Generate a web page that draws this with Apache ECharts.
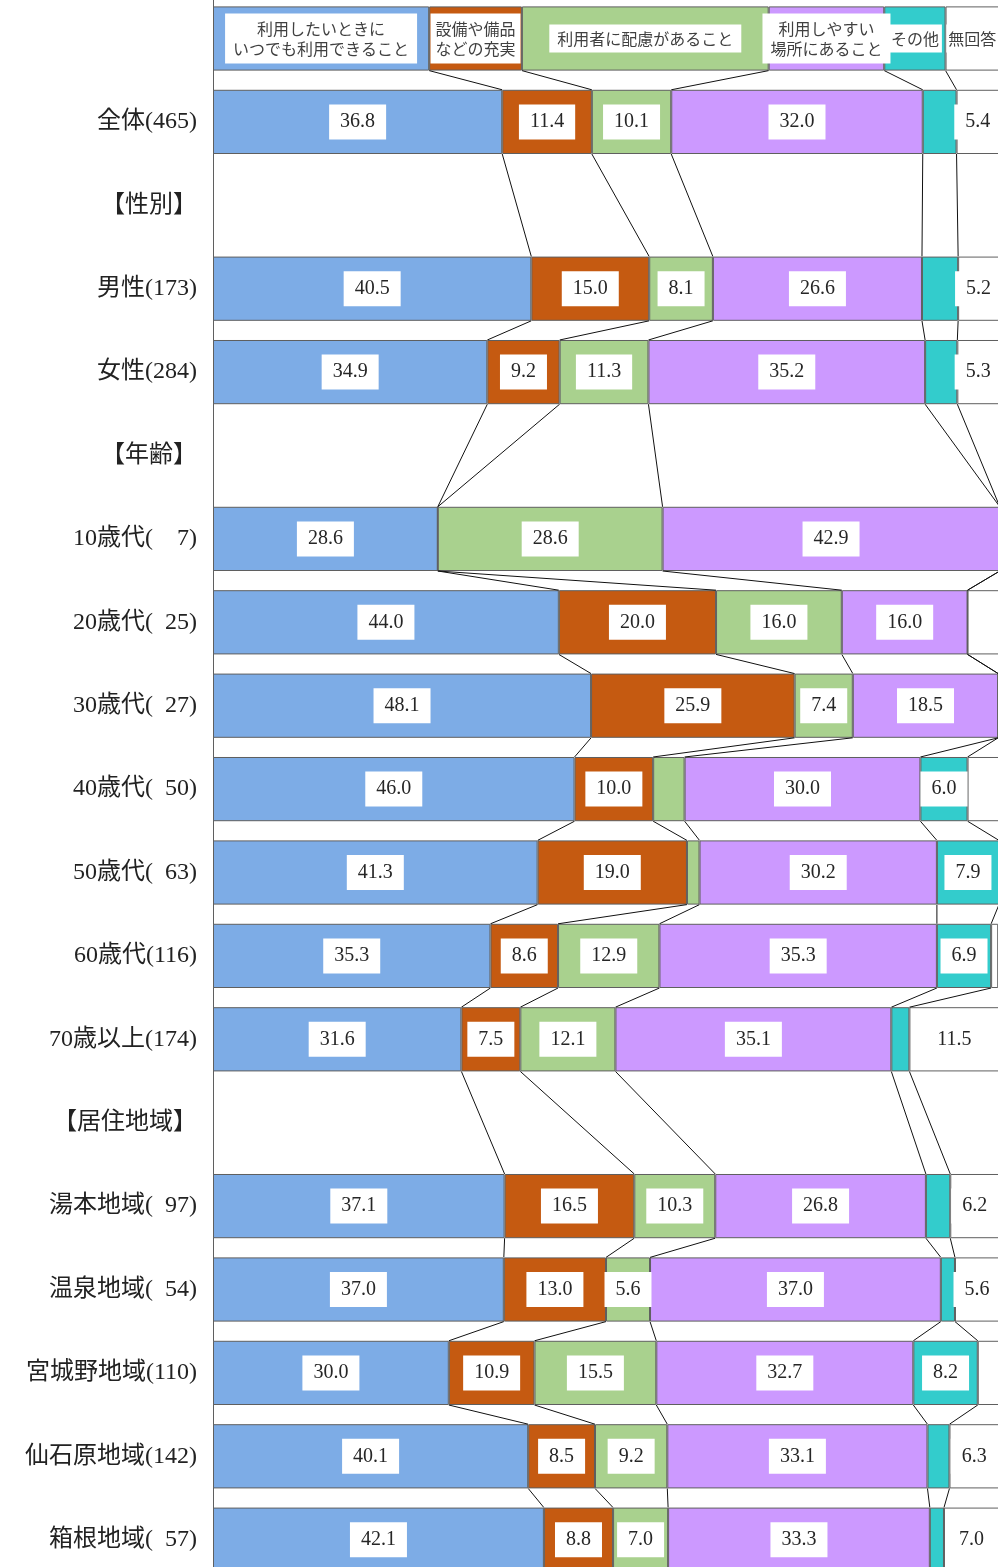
<!DOCTYPE html>
<html>
<head>
<meta charset="utf-8">
<script src="https://cdn.jsdelivr.net/npm/echarts@6/dist/echarts.min.js"></script>
<style>
  html, body { margin: 0; padding: 0; background: #fff; }
  #chart { width: 998px; height: 1567px; }
</style>
</head>
<body>
<div id="chart"></div>
<script>
// row 0 is the header bar that carries the answer names
const rowLabels = ['', '全体(465)', '【性別】', '男性(173)', '女性(284)', '【年齢】',
    '10歳代(\u2007\u20077)', '20歳代(\u200725)', '30歳代(\u200727)', '40歳代(\u200750)', '50歳代(\u200763)',
    '60歳代(116)', '70歳以上(174)', '【居住地域】',
    '湯本地域(\u200797)', '温泉地域(\u200754)', '宮城野地域(110)', '仙石原地域(142)', '箱根地域(\u200757)'];

const answers = ['利用したいときに\nいつでも利用できること', '設備や備品\nなどの充実', '利用者に配慮があること',
    '利用しやすい\n場所にあること', 'その他', '無回答'];
const headerShares = [27.5, 11.8, 31.4, 14.7, 7.8, 6.8];

const anytime       = [null, 36.8, null, 40.5, 34.9, null, 28.6, 44.0, 48.1, 46.0, 41.3, 35.3, 31.6, null, 37.1, 37.0, 30.0, 40.1, 42.1];
const equipment     = [null, 11.4, null, 15.0,  9.2, null,  0.0, 20.0, 25.9, 10.0, 19.0,  8.6,  7.5, null, 16.5, 13.0, 10.9,  8.5,  8.8];
const consideration = [null, 10.1, null,  8.1, 11.3, null, 28.6, 16.0,  7.4,  4.0,  1.6, 12.9, 12.1, null, 10.3,  5.6, 15.5,  9.2,  7.0];
const handyPlace    = [null, 32.0, null, 26.6, 35.2, null, 42.9, 16.0, 18.5, 30.0, 30.2, 35.3, 35.1, null, 26.8, 37.0, 32.7, 33.1, 33.3];
const other         = [null,  4.3, null,  4.6,  4.1, null,  0.0,  0.0,  0.0,  6.0,  7.9,  6.9,  2.3, null,  3.1,  1.8,  8.2,  2.8,  1.8];
const noAnswer      = [null,  5.4, null,  5.2,  5.3, null,  0.0,  4.0,  0.0,  4.0,  0.0,  0.9, 11.5, null,  6.2,  5.6,  2.7,  6.3,  7.0];

const seriesValues = [anytime, equipment, consideration, handyPlace, other, noAnswer];
const colors = ['#7DACE6', '#C55A11', '#A9D18E', '#CC99FF', '#33CCCC', '#FFFFFF'];
const headerPads = [[5, 8], [5, 5], [4, 8], [5, 8], [4, 3], [4, 2]];

const BAR_RATIO = 0.77;
const serif = "'Liberation Serif', 'Noto Sans CJK JP'";

function valueAt(s, r) {
    return r === 0 ? headerShares[s] : seriesValues[s][r];
}

const bars = answers.map((name, s) => ({
    type: 'bar',
    name: name,
    stack: 'total',
    barWidth: (BAR_RATIO * 100) + '%',
    itemStyle: { color: colors[s], borderColor: '#5f5f5f', borderWidth: 1 },
    label: {
        show: true,
        position: 'inside',
        formatter: p => p.value.toFixed(1),
        backgroundColor: '#fff',
        padding: [7, 11],
        fontSize: 20,
        lineHeight: 21,
        color: '#262626',
        fontFamily: serif
    },
    data: rowLabels.map((_, r) => {
        const v = valueAt(s, r);
        if (v === null) return '-';
        if (r === 0) {
            return {
                value: v,
                label: {
                    show: true,
                    formatter: name,
                    padding: headerPads[s],
                    fontSize: 16,
                    lineHeight: 20,
                    color: '#404040',
                    fontFamily: "'Noto Sans CJK JP'"
                }
            };
        }
        return { value: v, label: { show: v >= 5 } };
    })
}));

// connectors between segment boundaries of consecutive bars
const barRows = rowLabels.map((_, r) => r).filter(r => r === 0 || anytime[r] !== null);
const links = [];
for (let i = 0; i + 1 < barRows.length; i++) {
    const a = barRows[i], b = barRows[i + 1];
    let ca = 0, cb = 0;
    for (let s = 0; s < 5; s++) {
        ca += valueAt(s, a);
        cb += valueAt(s, b);
        links.push([ca, a, cb, b]);
    }
}

const connectors = {
    type: 'custom',
    coordinateSystem: 'cartesian2d',
    silent: true,
    z: 3,
    encode: { x: [0, 2], y: [1, 3] },
    renderItem: (params, api) => {
        const p1 = api.coord([api.value(0), api.value(1)]);
        const p2 = api.coord([api.value(2), api.value(3)]);
        const half = api.size([0, 1])[1] * BAR_RATIO / 2;
        return {
            type: 'line',
            shape: { x1: p1[0], y1: p1[1] + half, x2: p2[0], y2: p2[1] - half },
            style: { stroke: '#111', lineWidth: 1 }
        };
    },
    data: links
};

const chart = echarts.init(document.getElementById('chart'));
chart.setOption({
    animation: false,
    grid: { left: 213, width: 786, top: -3.2, height: 1584.6, outerBoundsMode: 'none' },
    xAxis: { type: 'value', min: 0, max: 100, show: false },
    yAxis: {
        type: 'category',
        inverse: true,
        data: rowLabels,
        axisLine: { lineStyle: { color: '#5f5f5f', width: 1 } },
        axisTick: { show: false },
        axisLabel: { fontSize: 24, margin: 16, color: '#222', fontFamily: serif }
    },
    series: bars.concat([connectors])
});
</script>
</body>
</html>
